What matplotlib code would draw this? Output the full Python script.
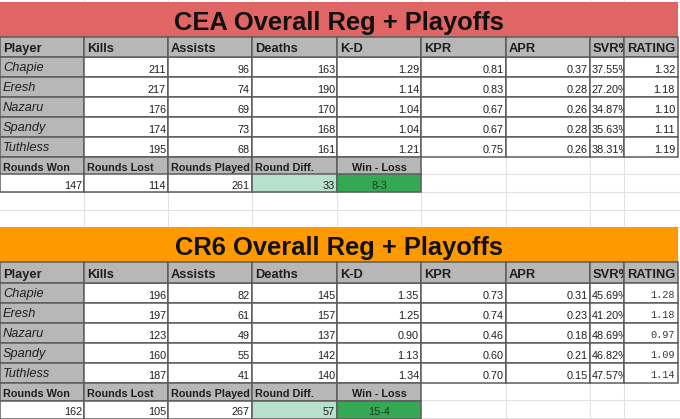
import matplotlib.pyplot as plt
from matplotlib.patches import Rectangle

# data
players = ["Chapie", "Eresh", "Nazaru", "Spandy", "Tuthless"]
columns = ["Player", "Kills", "Assists", "Deaths", "K-D", "KPR", "APR", "SVR%", "RATING"]
round_labels = ["Rounds Won", "Rounds Lost", "Rounds Played", "Round Diff.", "Win - Loss"]

cea_kills = [211, 217, 176, 174, 195]
cea_assists = [96, 74, 69, 73, 68]
cea_deaths = [163, 190, 170, 168, 161]
cea_kd = [1.29, 1.14, 1.04, 1.04, 1.21]
cea_kpr = [0.81, 0.83, 0.67, 0.67, 0.75]
cea_apr = [0.37, 0.28, 0.26, 0.28, 0.26]
cea_svr = [37.55, 27.20, 34.87, 35.63, 38.31]
cea_rating = [1.32, 1.18, 1.10, 1.11, 1.19]
cea_rounds = [147, 114, 261, 33]
cea_wl = "8-3"

cr6_kills = [196, 197, 123, 160, 187]
cr6_assists = [82, 61, 49, 55, 41]
cr6_deaths = [145, 157, 137, 142, 140]
cr6_kd = [1.35, 1.25, 0.90, 1.13, 1.34]
cr6_kpr = [0.73, 0.74, 0.46, 0.60, 0.70]
cr6_apr = [0.31, 0.23, 0.18, 0.21, 0.15]
cr6_svr = [45.69, 41.20, 48.69, 46.82, 47.57]
cr6_rating = [1.28, 1.18, 0.97, 1.09, 1.14]
cr6_rounds = [162, 105, 267, 57]
cr6_wl = "15-4"

# layout (pixels)
col_x = [0, 84, 168, 252, 337, 421, 506, 590, 624, 678]
GRAY = "#b7b7b7"
BORDER = "#5c5c5c"
FAINT = "#e2e2e2"
TXT = "#1f1f1f"
SANS = "Liberation Sans"

fig = plt.figure(figsize=(6.8, 4.19), dpi=100)
ax = fig.add_axes([0, 0, 1, 1])
ax.set_xlim(0, 680)
ax.set_ylim(419, 0)
ax.axis("off")

# faint spreadsheet grid in the background
for x in col_x[1:-1]:
    ax.plot([x, x], [0, 419], color=FAINT, lw=0.75, zorder=0)
for y in [2, 192, 210, 227]:
    ax.plot([0, 680], [y, y], color=FAINT, lw=0.75, zorder=0)
for y in [174, 192, 400, 418]:
    ax.plot([421, 680], [y, y], color=FAINT, lw=0.75, zorder=0)


def cell(x0, x1, y0, y1, fc="white", z=2):
    # z above the text of the cell on its left, so overflowing text is hidden
    ax.add_patch(Rectangle((x0, y0), x1 - x0, y1 - y0, facecolor=fc,
                           edgecolor=BORDER, lw=1.1, zorder=z))


def draw_table(top, hdr_h, title, color, stats, rounds, wl, mono_rating):
    # title banner
    ax.add_patch(Rectangle((0, top), 678, 35, facecolor=color, lw=0, zorder=1))
    ax.text(339, top + 28, title, ha="center", va="baseline", fontsize=18.4,
            fontweight="bold", family=SANS, color="#111111", zorder=4)

    # header row
    y0, y1 = top + 35, top + 35 + hdr_h
    for i, name in enumerate(columns):
        cell(col_x[i], col_x[i + 1], y0, y1, GRAY, z=2 + 0.1 * i)
        ax.text(col_x[i] + 3, y1 - 5, name, ha="left", va="baseline", fontsize=9.3,
                fontweight="bold", family=SANS, color=TXT, zorder=2.05 + 0.1 * i)

    # player rows
    kills, assists, deaths, kd, kpr, apr, svr, rating = stats
    for r, p in enumerate(players):
        ya, yb = y1 + 20 * r, y1 + 20 * (r + 1)
        cell(col_x[0], col_x[1], ya, yb, GRAY)
        ax.text(col_x[0] + 3, yb - 6, p, ha="left", va="baseline", fontsize=9.2,
                style="italic", family=SANS, color=TXT, zorder=4)
        vals = [f"{kills[r]}", f"{assists[r]}", f"{deaths[r]}", f"{kd[r]:.2f}",
                f"{kpr[r]:.2f}", f"{apr[r]:.2f}"]
        for c, v in enumerate(vals, start=1):
            cell(col_x[c], col_x[c + 1], ya, yb)
            ax.text(col_x[c + 1] - 2, yb - 4, v, ha="right", va="baseline",
                    fontsize=7.8, family=SANS, color=TXT, zorder=4)
        # SVR% overflows into the RATING column, which covers it
        cell(col_x[7], col_x[8], ya, yb)
        ax.text(col_x[7] + 2, yb - 4, f"{svr[r]:.2f}%", ha="left", va="baseline",
                fontsize=7.8, family=SANS, color=TXT, zorder=2.5)
        cell(col_x[8], col_x[9], ya, yb, z=3)
        if mono_rating:
            ax.text(col_x[9] - 3, yb - 5, f"{rating[r]:.2f}", ha="right", va="baseline",
                    fontsize=7.4, family="Liberation Mono", color="#3a3a3a", zorder=4)
        else:
            ax.text(col_x[9] - 3, yb - 4, f"{rating[r]:.2f}", ha="right", va="baseline",
                    fontsize=7.8, family=SANS, color=TXT, zorder=4)

    # rounds summary
    ra = y1 + 20 * len(players)
    rb, rc = ra + 17.5, ra + 35.5
    for i, lab in enumerate(round_labels):
        cell(col_x[i], col_x[i + 1], ra, rb, GRAY)
        if i < 4:
            ax.text(col_x[i] + 3, rb - 4, lab, ha="left", va="baseline", fontsize=7.8,
                    fontweight="bold", family=SANS, color=TXT, zorder=4)
        else:
            ax.text((col_x[i] + col_x[i + 1]) / 2, rb - 4, lab, ha="center",
                    va="baseline", fontsize=7.8, fontweight="bold", family=SANS,
                    color=TXT, zorder=4)
    for i, v in enumerate(rounds):
        cell(col_x[i], col_x[i + 1], rb, rc, "#b7e1cd" if i == 3 else "white")
        ax.text(col_x[i + 1] - 2, rc - 4, f"{v}", ha="right", va="baseline",
                fontsize=7.8, family=SANS, color=TXT, zorder=4)
    cell(col_x[4], col_x[5], rb, rc, "#34a853")
    ax.text((col_x[4] + col_x[5]) / 2, rc - 4, wl, ha="center", va="baseline",
            fontsize=7.8, family=SANS, color="#173d1f", zorder=4)


draw_table(2, 20, "CEA Overall Reg + Playoffs", "#e06666",
           (cea_kills, cea_assists, cea_deaths, cea_kd, cea_kpr, cea_apr, cea_svr, cea_rating),
           cea_rounds, cea_wl, False)
draw_table(227, 21, "CR6 Overall Reg + Playoffs", "#ff9900",
           (cr6_kills, cr6_assists, cr6_deaths, cr6_kd, cr6_kpr, cr6_apr, cr6_svr, cr6_rating),
           cr6_rounds, cr6_wl, True)

fig.savefig("out.png", dpi=100)
